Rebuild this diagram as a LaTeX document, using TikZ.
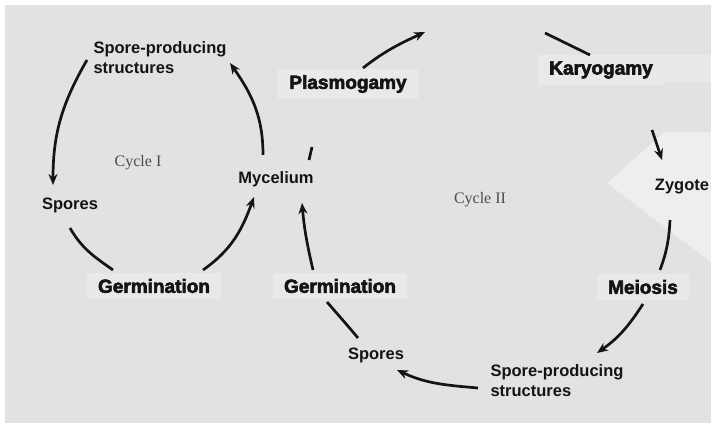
\documentclass[tikz,border=0pt]{standalone}
\usepackage{fontspec}
\setmainfont{Liberation Sans}
\newfontfamily\cycfont{Liberation Serif}
\newfontfamily\heavyfont{Liberation Sans}[BoldFeatures={FakeBold=3}]
\usetikzlibrary{positioning, arrows.meta}
\definecolor{bggray}{RGB}{226,226,226}
\definecolor{boxgray}{RGB}{233,233,233}
\definecolor{palegray}{RGB}{238,238,238}
\definecolor{ink}{RGB}{20,20,20}
\definecolor{cycgray}{RGB}{75,75,75}

\begin{document}
\begin{tikzpicture}[x=1pt, y=1pt,
  lbl/.style={font=\fontsize{16.5}{20}\selectfont\bfseries, text=ink, inner sep=2pt},
  heavy/.style={font=\heavyfont\fontsize{19}{20}\selectfont\bfseries, text=ink, fill=boxgray, inner xsep=11pt, inner ysep=6pt},
  cyc/.style={font=\cycfont\fontsize{16}{18}\selectfont, text=cycgray},
  arr/.style={line width=2.7pt, draw=ink, -{Stealth[length=11pt,width=9pt]}},
  link/.style={line width=2.7pt, draw=ink}]
\useasboundingbox (0,0) rectangle (711,427);
\fill[white] (0,0) rectangle (711,427);
\fill[bggray] (5,4) rectangle (711,422);
\fill[palegray] (607,244) -- (665,295) -- (711,295) -- (711,165) -- cycle;
\fill[boxgray] (545,345) rectangle (711,372);

% Cycle I
\node[lbl, align=left] (sp1) at (160,369) {Spore-producing\\structures};
\node[cyc] (cyc1) at (138,264) {Cycle I};
\node[lbl] (spo1) at (70,222) {Spores};
\node[lbl] (myc) at (276,248) {Mycelium};
\node[heavy] (ger1) at (154,141) {Germination};

% Cycle II
\node[heavy] (pla) at (348,343) {Plasmogamy};
\node[heavy] (kar) at (601,357) {Karyogamy};
\node[lbl] (zyg) at (682,240) {Zygote};
\node[cyc] (cyc2) at (480,227) {Cycle II};
\node[heavy] (mei) at (643,140) {Meiosis};
\node[lbl, align=left] (sp2) at (557,46) {Spore-producing\\structures};
\node[lbl] (spo2) at (376,72) {Spores};
\node[heavy] (ger2) at (340,141) {Germination};

% free ends at the top
\coordinate (topl) at (425,395);
\coordinate (topr) at (545,394);

% Arrows of cycle I
\draw[arr] ([shift={(-73,-2)}]sp1.center) to[out=240, in=90] ([shift={(-17,20)}]spo1.center);
\draw[link] ([shift={(0,-23)}]spo1.center) to[out=300, in=145] ([shift={(-41,16)}]ger1.center);
\draw[arr] ([shift={(49,16)}]ger1.center) to[out=35, in=250] ([shift={(-22,-18)}]myc.center);
\draw[arr] ([shift={(-13,24)}]myc.center) to[out=90, in=305] ([shift={(70,-5)}]sp1.center);

% Arrows of cycle II
\draw[link] ([shift={(36,32)}]myc.center) -- ([shift={(33,19)}]myc.center);
\draw[arr] ([shift={(15,16)}]pla.center) to[out=38, in=205] (topl);
\draw[link] (topr) -- ([shift={(-11,15)}]kar.center);
\draw[arr] ([shift={(51,-60)}]kar.center) -- ([shift={(-20,27)}]zyg.center);
\draw[link] ([shift={(-12,-33)}]zyg.center) to[out=267, in=70] ([shift={(17,17)}]mei.center);
\draw[arr] ([shift={(0,-17)}]mei.center) to[out=237, in=35] ([shift={(40,28)}]sp2.center);
\draw[arr] ([shift={(-79,-7)}]sp2.center) to[out=175, in=335] ([shift={(21,-15)}]spo2.center);
\draw[link] ([shift={(-18,17)}]spo2.center) to[out=130, in=311] ([shift={(-13,-16)}]ger2.center);
\draw[arr] ([shift={(-27,16)}]ger2.center) to[out=103, in=275] ([shift={(26,-24)}]myc.center);
\end{tikzpicture}
\end{document}
